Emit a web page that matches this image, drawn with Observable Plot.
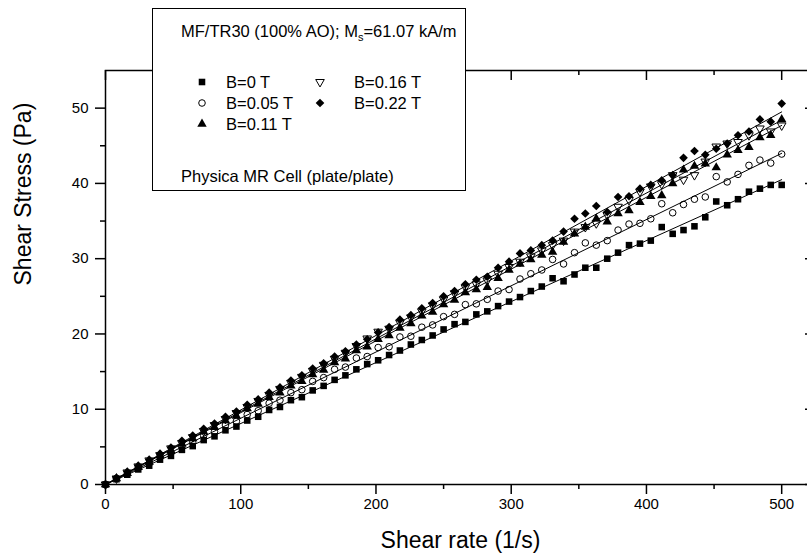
<!DOCTYPE html>
<html><head><meta charset="utf-8">
<script src="https://cdn.jsdelivr.net/npm/d3@7"></script>
<script src="https://cdn.jsdelivr.net/npm/@observablehq/plot@0.6"></script>
<style>
body{margin:0;background:#fff;}
#wrap{position:relative;width:807px;height:557px;overflow:hidden;font-family:"Liberation Sans",Arial,sans-serif;background:#fff;}
#wrap > svg{max-width:none !important;width:820px !important;height:557px !important;display:block;}
#legend{position:absolute;left:152px;top:8px;width:314px;height:183px;border:1px solid #000;background:#fff;box-sizing:border-box;}
.lt{position:absolute;font-size:16.5px;line-height:16px;white-space:nowrap;color:#000;}
.lt sub{font-size:11px;vertical-align:-4px;line-height:0;}
.ls{position:absolute;width:14px;height:14px;}
</style></head><body><div id="wrap"></div>
<script>
// ---- data ----
const shearRate = [0, 8.1, 16.1, 24.2, 32.3, 40.3, 48.4, 56.5, 64.5, 72.6, 80.6, 88.7, 96.8, 104.8, 112.9, 121.0, 129.0, 137.1, 145.2, 153.2, 161.3, 169.4, 177.4, 185.5, 193.5, 201.6, 209.7, 217.7, 225.8, 233.9, 241.9, 250.0, 258.1, 266.1, 274.2, 282.3, 290.3, 298.4, 306.5, 314.5, 322.6, 330.6, 338.7, 346.8, 354.8, 362.9, 371.0, 379.0, 387.1, 395.2, 403.2, 411.3, 419.4, 427.4, 435.5, 443.5, 451.6, 459.7, 467.7, 475.8, 483.9, 491.9, 500.0];
const stressB0 = [0.0, 0.7, 1.3, 2.0, 2.5, 3.3, 3.8, 4.6, 5.1, 5.9, 6.4, 7.2, 7.7, 8.5, 9.0, 9.9, 10.3, 11.2, 11.6, 12.5, 13.1, 13.9, 14.5, 15.3, 16.0, 16.5, 17.2, 17.8, 18.6, 19.2, 19.8, 20.6, 21.3, 21.6, 22.6, 23.0, 23.7, 24.3, 24.9, 25.7, 26.3, 27.4, 27.0, 27.9, 28.8, 28.8, 30.0, 30.8, 31.8, 32.0, 32.4, 34.2, 33.3, 33.8, 34.3, 35.5, 37.6, 37.1, 37.9, 38.9, 39.3, 39.8, 39.8];
const stressB005 = [0.0, 0.8, 1.4, 2.2, 2.8, 3.6, 4.2, 5.0, 5.6, 6.5, 7.0, 7.9, 8.4, 9.3, 9.8, 10.8, 11.2, 12.2, 12.6, 13.7, 14.2, 15.3, 15.6, 16.8, 17.0, 18.2, 18.3, 19.6, 19.7, 20.9, 21.2, 22.3, 22.6, 23.9, 24.0, 24.6, 25.7, 25.9, 27.3, 28.0, 28.5, 29.9, 29.3, 30.8, 32.1, 31.8, 32.4, 33.8, 34.6, 34.7, 35.3, 37.3, 36.1, 37.2, 37.9, 38.2, 40.9, 40.2, 41.2, 42.4, 43.1, 42.7, 43.9];
const stressB011 = [0.0, 0.8, 1.5, 2.3, 3.0, 3.9, 4.5, 5.4, 6.1, 7.0, 7.6, 8.5, 9.1, 10.1, 10.7, 11.6, 12.2, 13.1, 13.7, 14.6, 15.2, 16.2, 16.7, 17.8, 18.3, 19.3, 19.8, 20.8, 21.4, 22.4, 22.9, 23.9, 24.5, 25.5, 25.9, 26.2, 27.4, 28.5, 29.3, 29.9, 30.5, 30.9, 32.2, 33.3, 34.2, 35.3, 34.9, 36.0, 36.4, 37.5, 38.3, 38.4, 40.0, 41.8, 42.3, 42.6, 42.1, 43.8, 44.4, 44.8, 46.1, 46.4, 48.5];
const stressB016 = [0.0, 0.8, 1.6, 2.4, 3.2, 3.9, 4.8, 5.5, 6.3, 7.1, 7.9, 8.7, 9.5, 10.3, 11.1, 11.9, 12.7, 13.5, 14.3, 15.1, 15.9, 16.7, 17.5, 18.4, 19.4, 20.3, 20.7, 21.5, 22.2, 23.0, 23.8, 24.6, 25.4, 26.2, 26.6, 27.1, 28.0, 28.9, 29.6, 30.3, 31.1, 31.8, 32.4, 33.6, 34.2, 34.7, 35.8, 36.9, 37.8, 38.9, 39.6, 39.9, 41.1, 40.5, 41.1, 42.9, 44.9, 45.3, 45.5, 46.4, 47.3, 46.9, 47.7];
const stressB022 = [0.0, 0.9, 1.7, 2.5, 3.3, 4.1, 4.9, 5.8, 6.5, 7.4, 8.1, 9.0, 9.7, 10.6, 11.3, 12.2, 12.9, 13.8, 14.5, 15.4, 16.1, 17.0, 17.7, 18.6, 19.3, 20.2, 20.9, 21.9, 22.5, 23.4, 24.1, 25.0, 25.7, 26.6, 27.2, 27.6, 28.8, 29.6, 30.7, 31.1, 31.8, 32.4, 33.6, 35.3, 36.0, 37.0, 36.2, 38.2, 38.3, 39.3, 39.8, 40.4, 41.1, 43.4, 44.3, 43.8, 44.6, 45.3, 46.4, 46.9, 48.5, 48.2, 50.6];
const seriesLabels = ["B=0 T", "B=0.05 T", "B=0.11 T", "B=0.16 T", "B=0.22 T"];
const fitX = [0, 500];
const fitStart = [0, 0, 0, 0, 0];
const fitEnd = [40.5, 44.0, 47.7, 48.4, 49.5];
const xMajor = [0, 100, 200, 300, 400, 500];
const xMinor = [50, 150, 250, 350, 450];
const yMajor = [0, 10, 20, 30, 40, 50];
const yMinor = [5, 15, 25, 35, 45];
const legendTitle = "MF/TR30 (100% AO); M<sub>s</sub>=61.07 kA/m";
const legendFooter = "Physica MR Cell (plate/plate)";
const xTitle = "Shear rate (1/s)";
const yTitle = "Shear Stress (Pa)";

// ---- styling ----
const triangleDown = {
  draw(context, size) {
    const y = -Math.sqrt(size / (Math.sqrt(3) * 3));
    context.moveTo(0, -y * 2);
    context.lineTo(-Math.sqrt(3) * y, y);
    context.lineTo(Math.sqrt(3) * y, y);
    context.closePath();
  }
};
const seriesStress = [stressB0, stressB005, stressB011, stressB016, stressB022];
const styles = [
  {symbol: "square", filled: true, r: 3.7},
  {symbol: "circle", filled: false, r: 3.3},
  {symbol: "triangle", filled: true, r: 3.5},
  {symbol: triangleDown, filled: false, r: 3.2},
  {symbol: "diamond2", filled: true, r: 3.9}
];
const d3sym = {square: d3.symbolSquare, circle: d3.symbolCircle, triangle: d3.symbolTriangle, diamond2: d3.symbolDiamond2};

const W = 820, H = 557, mL = 105, mR = 5, mT = 70, mB = 73;
const frameW = W - mL - mR, frameH = H - mT - mB;

const pointMarks = [];
const lineMarks = [];
seriesStress.forEach((ys, i) => {
  const pts = shearRate.map((x, j) => ({x, y: ys[j]}));
  const st = styles[i];
  pointMarks.push(Plot.dot(pts, {
    x: "x", y: "y", symbol: st.symbol, r: st.r,
    fill: st.filled ? "black" : "none",
    stroke: st.filled ? "none" : "black",
    strokeWidth: 1
  }));
  const fit = fitX.map((x, k) => ({x, y: k === 0 ? fitStart[i] : fitEnd[i]}));
  lineMarks.push(Plot.line(fit, {x: "x", y: "y", stroke: "black", strokeWidth: 1}));
});

const chart = Plot.plot({
  width: W, height: H,
  marginLeft: mL, marginRight: mR, marginTop: mT, marginBottom: mB,
  x: {domain: [0, 525]},
  y: {domain: [0, 55]},
  style: {fontFamily: '"Liberation Sans", Arial, sans-serif', fontSize: "15px", color: "black", background: "white"},
  marks: [
    ...pointMarks,
    ...lineMarks,
    Plot.frame({stroke: "black", strokeWidth: 1.5}),
    Plot.axisX({ticks: xMajor, tickSize: 10, tickPadding: 4, label: null, strokeWidth: 1.5, fontSize: 15}),
    Plot.axisX({ticks: xMinor, tickSize: 5, tickFormat: () => "", label: null, strokeWidth: 1.5}),
    Plot.axisY({ticks: yMajor, tickSize: 10, tickPadding: 7, label: null, strokeWidth: 1.5, fontSize: 15}),
    Plot.axisY({ticks: yMinor, tickSize: 5, tickFormat: () => "", label: null, strokeWidth: 1.5}),
    Plot.tickX(xMajor, {x: d => d, insetBottom: frameH - 10, stroke: "black", strokeWidth: 1.5}),
    Plot.tickX(xMinor, {x: d => d, insetBottom: frameH - 5, stroke: "black", strokeWidth: 1.5}),
    Plot.tickY(yMajor, {y: d => d, insetLeft: frameW - 10, stroke: "black", strokeWidth: 1.5}),
    Plot.tickY(yMinor, {y: d => d, insetLeft: frameW - 5, stroke: "black", strokeWidth: 1.5}),
    Plot.text([xTitle], {text: d => d, frameAnchor: "bottom", dy: 63, fontSize: 23}),
    Plot.text([yTitle], {text: d => d, frameAnchor: "left", dx: -82, dy: 8, rotate: -90, fontSize: 23})
  ]
});

const wrap = document.getElementById("wrap");
wrap.appendChild(chart);

// ---- legend (HTML overlay) ----
const legend = document.createElement("div");
legend.id = "legend";
wrap.appendChild(legend);
function addText(html, left, top) {
  const d = document.createElement("div");
  d.className = "lt";
  d.innerHTML = html;
  d.style.left = left + "px";
  d.style.top = top + "px";
  legend.appendChild(d);
}
function addSymbol(i, cx, cy) {
  const st = styles[i];
  const type = typeof st.symbol === "string" ? d3sym[st.symbol] : st.symbol;
  const path = d3.symbol(type, Math.PI * st.r * st.r)();
  const s = d3.create("svg").attr("class", "ls").attr("width", 14).attr("height", 14)
    .attr("viewBox", "-7 -7 14 14")
    .style("left", (cx - 7) + "px").style("top", (cy - 7) + "px");
  s.append("path").attr("d", path)
    .attr("fill", st.filled ? "black" : "none")
    .attr("stroke", st.filled ? "none" : "black")
    .attr("stroke-width", 1);
  legend.appendChild(s.node());
}
addText(legendTitle, 28, 14);
const legendPos = [[49, 73, 65], [49, 73, 86], [49, 73, 107], [167, 201, 65], [167, 201, 86]];
seriesLabels.forEach((lab, i) => {
  const [sx, tx, ty] = legendPos[i];
  addSymbol(i, sx, ty + 8);
  addText(lab, tx, ty);
});
addText(legendFooter, 28, 159);
</script>
</body></html>
